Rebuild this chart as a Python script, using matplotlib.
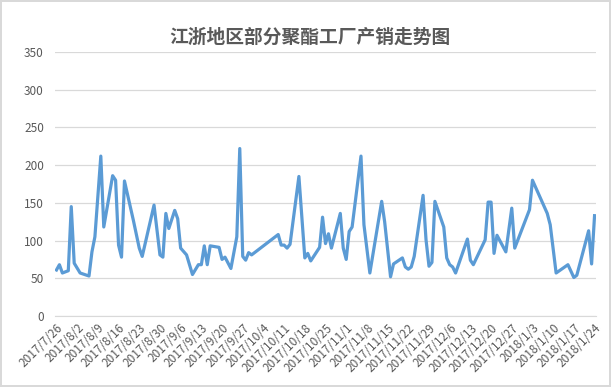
import pandas as pd
import matplotlib
matplotlib.use('Agg')
import matplotlib.pyplot as plt
import matplotlib.dates as mdates

plt.rcParams['font.family'] = ['Noto Sans CJK SC', 'DejaVu Sans']

dates = [
    '2017-07-26', '2017-07-27', '2017-07-28', '2017-07-30', '2017-07-31',
    '2017-08-01', '2017-08-03', '2017-08-06', '2017-08-07', '2017-08-08',
    '2017-08-10', '2017-08-11', '2017-08-14', '2017-08-15', '2017-08-16',
    '2017-08-17', '2017-08-18', '2017-08-21', '2017-08-23', '2017-08-24',
    '2017-08-28', '2017-08-30', '2017-08-31', '2017-09-01', '2017-09-02',
    '2017-09-04', '2017-09-05', '2017-09-06', '2017-09-08', '2017-09-10',
    '2017-09-12', '2017-09-13', '2017-09-14', '2017-09-15', '2017-09-16',
    '2017-09-19', '2017-09-20', '2017-09-21', '2017-09-23', '2017-09-25',
    '2017-09-26', '2017-09-27', '2017-09-28', '2017-09-29', '2017-09-30',
    '2017-10-09', '2017-10-10', '2017-10-11', '2017-10-12', '2017-10-13',
    '2017-10-16', '2017-10-18', '2017-10-19', '2017-10-20', '2017-10-23',
    '2017-10-24', '2017-10-25', '2017-10-26', '2017-10-27', '2017-10-30',
    '2017-10-31', '2017-11-01', '2017-11-02', '2017-11-03', '2017-11-06',
    '2017-11-07', '2017-11-09', '2017-11-13', '2017-11-14', '2017-11-16',
    '2017-11-17', '2017-11-20', '2017-11-21', '2017-11-22', '2017-11-23',
    '2017-11-24', '2017-11-27', '2017-11-28', '2017-11-29', '2017-11-30',
    '2017-12-01', '2017-12-04', '2017-12-05', '2017-12-06', '2017-12-07',
    '2017-12-08', '2017-12-12', '2017-12-13', '2017-12-14', '2017-12-18',
    '2017-12-19', '2017-12-20', '2017-12-21', '2017-12-22', '2017-12-25',
    '2017-12-27', '2017-12-28', '2018-01-02', '2018-01-03', '2018-01-08',
    '2018-01-09', '2018-01-11', '2018-01-15', '2018-01-17', '2018-01-18',
    '2018-01-22', '2018-01-23', '2018-01-24',
]
sales_ratio = [
    61, 68, 57, 60, 145,
    70, 57, 53, 85, 105,
    212, 118, 186, 180, 94,
    78, 179, 127, 90, 79,
    147, 81, 78, 136, 116,
    140, 129, 90, 81, 55,
    68, 68, 93, 68, 93,
    91, 75, 78, 63, 105,
    222, 79, 74, 84, 81,
    108, 94, 94, 90, 95,
    185, 77, 83, 73, 91,
    131, 96, 109, 90, 136,
    90, 75, 112, 118, 212,
    121, 57, 152, 125, 52,
    69, 77, 65, 62, 65,
    79, 160, 101, 66, 71,
    152, 118, 77, 68, 65,
    57, 102, 74, 68, 101,
    151, 151, 83, 107, 85,
    143, 90, 141, 180, 136,
    121, 57, 68, 51, 54,
    113, 69, 133,
]
title = '江浙地区部分聚酯工厂产销走势图'
y_ticks = [0, 50, 100, 150, 200, 250, 300, 350]

x = pd.to_datetime(dates)
x_ticks = pd.date_range('2017-07-26', '2018-01-24', freq='7D')
tick_labels = [f'{d.year}/{d.month}/{d.day}' for d in x_ticks]

fig = plt.figure(figsize=(6.11, 3.87), dpi=100)
fig.patch.set_edgecolor('#d9d9d9')
fig.patch.set_linewidth(1.5)
ax = fig.add_axes([0.09, 0.1835, 0.8855, 0.6821])

ax.plot(x, sales_ratio, color='#5b9bd5', linewidth=2.3, solid_joinstyle='round', zorder=3)

ax.set_ylim(0, 350)
ax.set_yticks(y_ticks)
ax.set_xlim(x_ticks[0] - pd.Timedelta(hours=12), x_ticks[-1] + pd.Timedelta(hours=12))
ax.set_xticks(x_ticks)
ax.set_xticklabels(tick_labels, rotation=45, ha='right', rotation_mode='anchor')

ax.grid(axis='y', color='#d9d9d9', linewidth=0.9)
ax.set_axisbelow(True)
for s in ax.spines.values():
    s.set_visible(False)
ax.spines['bottom'].set_visible(True)
ax.spines['bottom'].set_color('#d9d9d9')
ax.tick_params(axis='both', length=0, colors='#595959', labelsize=8.5)
ax.tick_params(axis='x', pad=4)
ax.tick_params(axis='y', pad=8)

fig.text(0.507, 0.905, title, ha='center', va='center', fontsize=13.5,
         fontweight='bold', color='#595959')

fig.savefig('out.png', dpi=100, edgecolor=fig.get_edgecolor())
